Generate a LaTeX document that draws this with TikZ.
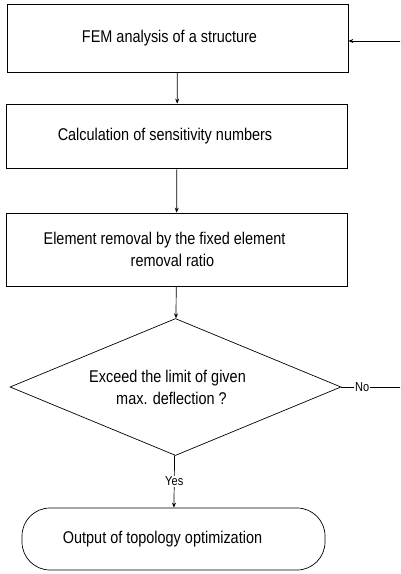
\documentclass[tikz,border=0pt]{standalone}
\usepackage{fontspec}
\setmainfont{Liberation Sans}[FakeStretch=0.85]
\usetikzlibrary{shapes.geometric,arrows.meta}
\tikzset{
  stepbox/.style={draw, minimum width=341pt, inner sep=0pt, align=center},
  flow/.style={-{Stealth[length=5pt,width=4pt]}},
  answer/.style={fill=white, inner sep=1pt, font=\fontsize{13}{15}\selectfont}
}
\begin{document}
\begin{tikzpicture}[x=1pt, y=-1pt, line width=0.7pt,
    every node/.style={font=\fontsize{17}{22}\selectfont}]
        \useasboundingbox (0,0) rectangle (400,574);
        \clip (0,0) rectangle (400,574);
        \node[stepbox, minimum height=68pt] (fem) at (177.5,38) {FEM analysis of a structure\hspace*{16pt}};
        \node[stepbox, minimum height=64pt] (sens) at (177,136) {Calculation of sensitivity numbers\hspace*{24pt}};
        \node[stepbox, minimum height=73pt] (removal) at (176.5,249.5) {Element removal by the fixed element\hspace*{24pt}\\removal ratio\hspace*{8pt}};
        \node[draw, diamond, aspect=2.42, minimum width=331pt, minimum height=137pt, inner sep=0pt, align=center] (check) at (175.5,387) {Exceed the limit of given\hspace*{16pt}\\max. deflection ?\hspace*{8pt}};
        \node[draw, rectangle, rounded corners=28pt, minimum width=303pt, minimum height=62pt] (output) at (173.5,539) {Output of topology optimization\hspace*{22pt}};
        \coordinate (loopbot) at (403,387);
        \coordinate (looptop) at (403,41);

        \draw[flow] (fem) -- (sens);
        \draw[flow] (sens) -- (removal);
        \draw[flow] (removal) -- (check);
        \draw[flow] (check) -- node[answer] {Yes} (output);
        \draw[flow] (check.east) -- node[answer, pos=0.34] {No} (loopbot) -- (looptop) -- (fem.east |- looptop);
    \end{tikzpicture}
\end{document}
